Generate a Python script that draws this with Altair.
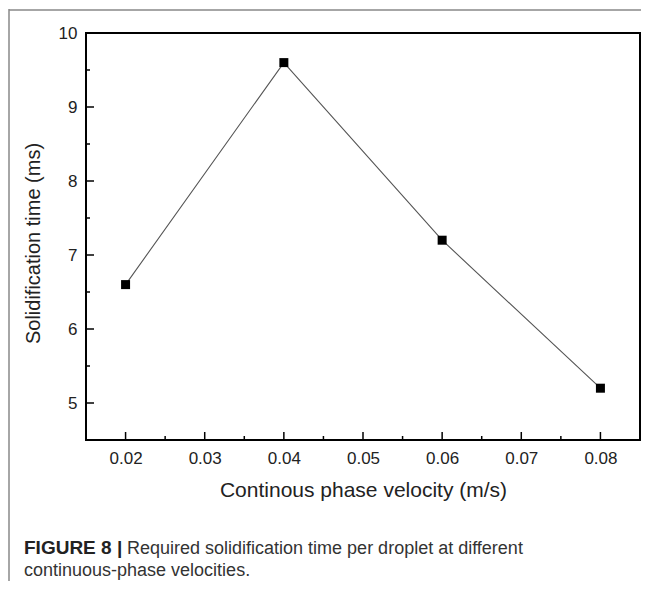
import altair as alt
import pandas as pd

# ---- data ----
velocity = [0.02, 0.04, 0.06, 0.08]
solid_time = [6.6, 9.6, 7.2, 5.2]

x_major = [0.02, 0.03, 0.04, 0.05, 0.06, 0.07, 0.08]
x_minor = [0.025, 0.035, 0.045, 0.055, 0.065, 0.075]
y_major = [5, 6, 7, 8, 9, 10]
y_minor = [5.5, 6.5, 7.5, 8.5, 9.5]

x_title = "Continous phase velocity (m/s)"
y_title = "Solidification time (ms)"
cap_bold = "FIGURE 8 |"
cap_line1 = "Required solidification time per droplet at different"
cap_line2 = "continuous-phase velocities."

W, H = 554, 407
FONT = "Liberation Sans"

xs = alt.Scale(domain=[0.015, 0.085], nice=False, zero=False)
ys = alt.Scale(domain=[4.5, 10], nice=False, zero=False)

df = pd.DataFrame({"v": velocity, "t": solid_time})

x_axis = alt.Axis(values=x_major, format=".2f", ticks=False, tickSize=0, domain=False,
                  grid=False, labelFont=FONT, labelFontSize=17, labelColor="#222",
                  labelPadding=10, title=x_title, titleFont=FONT, titleFontSize=21,
                  titleFontWeight="normal", titleColor="#222", titleX=W / 2,
                  titleY=56, titleBaseline="alphabetic", titleAnchor="middle")
y_axis = alt.Axis(values=y_major, format="d", ticks=False, tickSize=0, domain=False,
                  grid=False, labelFont=FONT, labelFontSize=17, labelColor="#222",
                  labelPadding=9, title=y_title, titleFont=FONT, titleFontSize=20,
                  titleFontWeight="normal", titleColor="#222", titleX=-53,
                  titleY=210, titleAngle=-90, titleBaseline="middle",
                  titleAlign="center")

base = alt.Chart(df).encode(
    x=alt.X("v:Q", scale=xs, axis=x_axis),
    y=alt.Y("t:Q", scale=ys, axis=y_axis),
)
line = base.mark_line(color="#555", strokeWidth=1.1)
pts = base.mark_square(size=81, color="black", opacity=1)

def xticks(vals, length):
    return alt.Chart(pd.DataFrame({"v": vals})).mark_rule(
        color="black", strokeWidth=1.5).encode(
        x=alt.X("v:Q", scale=xs, axis=x_axis),
        y=alt.value(H), y2=alt.value(H - length))

def yticks(vals, length):
    return alt.Chart(pd.DataFrame({"t": vals})).mark_rule(
        color="black", strokeWidth=1.5).encode(
        y=alt.Y("t:Q", scale=ys, axis=y_axis),
        x=alt.value(0), x2=alt.value(length))

border_left = alt.Chart(pd.DataFrame({"a": [0]})).mark_rule(
    color="#888", strokeWidth=1.5).encode(
    x=alt.value(-77), y=alt.value(-24), y2=alt.value(548))
border_top = alt.Chart(pd.DataFrame({"a": [0]})).mark_rule(
    color="#888", strokeWidth=1.5).encode(
    x=alt.value(-77), x2=alt.value(W + 1), y=alt.value(-23))

def caption(text, x, y, bold, size):
    return alt.Chart(pd.DataFrame({"c": [text]})).mark_text(
        font=FONT, fontSize=size, fontWeight="bold" if bold else "normal",
        color="#222" if bold else "#333", align="left", baseline="alphabetic").encode(
        text="c:N", x=alt.value(x), y=alt.value(y))

chart = alt.layer(
    line, pts,
    xticks(x_major, 8), xticks(x_minor, 4),
    yticks(y_major, 8), yticks(y_minor, 4),
    border_left, border_top,
    caption(cap_bold, -62, 521, True, 19),
    caption(cap_line1, 41, 521, False, 18),
    caption(cap_line2, -62, 543, False, 18),
).properties(
    width=W, height=H, padding=0, background="white"
).configure_view(stroke="black", strokeWidth=2)

chart.save("out.html", embed_options={"renderer": "svg", "actions": False})
